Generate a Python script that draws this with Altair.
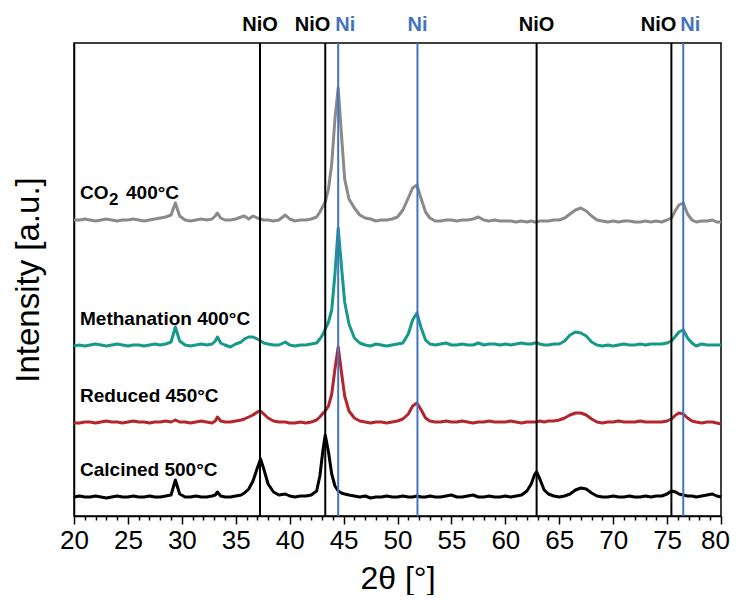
import altair as alt
import pandas as pd

# 2-theta grid (degrees), shared by all four patterns
two_theta = (
    [20, 20.5, 21, 21.5, 22, 22.5, 23, 23.5, 24, 24.5, 25, 25.5, 26, 26.5, 27, 27.5, 28, 28.5]
    + [29.0, 29.4, 29.8]
    + [30.3, 30.8, 31.3, 31.8, 32.3, 32.8]
    + [33.1, 33.3, 33.6]
    + [34.0, 34.5, 35.0, 35.5, 35.8, 36.2, 36.6, 37.0, 37.3, 37.6, 38.0, 38.5, 39.0, 39.6, 40.0]
    + [40.5, 41.0, 41.5, 42.0, 42.5, 42.8, 43.1, 43.3, 43.6, 43.9, 44.2, 44.5, 44.8, 45.1, 45.5]
    + [46.0, 46.5, 47.0, 47.5, 48.0, 48.5, 49.0, 49.5, 50.0, 50.5, 51.0]
    + [51.4, 51.8, 52.2, 52.6]
    + [53.0, 53.5, 54.0, 54.5, 55.0, 55.5, 56.0, 56.5, 57.0, 57.5, 58.0, 58.5, 59.0, 59.5, 60.0, 60.5, 61.0, 61.5, 62.0]
    + [62.4, 62.7, 62.9, 63.2, 63.6]
    + [64.0, 64.5, 65.0, 65.5, 66.0, 66.5, 67.0, 67.5, 68.0, 68.5, 69.0, 69.5, 70.0, 70.5, 71.0, 71.5, 72.0, 72.5, 73.0, 73.5, 74.0, 74.5, 75.0]
    + [75.4, 75.8, 76.1, 76.5, 76.9, 77.3, 77.7, 78.2, 78.7, 79.2, 79.6, 80.0]
)

# intensities (a.u., offset patterns)
calcined = [
    27, 28, 27, 27, 28, 27, 26, 27, 28, 27, 27, 28, 27, 27, 28, 27, 27, 28,
    29, 44, 30,
    27, 27, 28, 27, 27, 28,
    29, 32, 28,
    27, 27, 28, 29, 31, 35, 43, 56, 65, 55, 40, 32, 29, 30, 28,
    27, 28, 28, 29, 33, 48, 75, 89, 72, 50, 38, 33, 31, 30, 29,
    28, 27, 28, 26, 27, 27, 28, 27, 27, 28, 27,
    27, 28, 27, 27,
    28, 27, 27, 28, 29, 27, 27, 28, 29, 27, 27, 28, 27, 27, 28, 27, 28, 29, 33,
    40, 49, 52, 45, 34,
    30, 28, 27, 28, 30, 34, 36, 35, 31, 28, 27, 27, 28, 27, 27, 28, 27, 27, 28, 27, 28, 28, 30,
    33, 32, 30, 29, 28, 28, 27, 28, 29, 30, 28, 27,
]
reduced = [
    101, 101, 102, 102, 101, 102, 103, 102, 102, 101, 102, 103, 102, 102, 101, 102, 102, 103,
    102, 104, 102,
    102, 101, 102, 103, 102, 101,
    103, 107, 103,
    102, 102, 103, 104, 105, 107, 109, 112, 113, 110, 106, 103, 102, 102, 101,
    101, 102, 101, 102, 104, 107, 111, 113, 118, 130, 155, 177, 152, 128, 113,
    106, 103, 102, 101, 102, 102, 101, 102, 103, 105, 110,
    118, 121, 114, 106,
    103, 102, 102, 103, 102, 102, 103, 102, 101, 102, 102, 103, 102, 102, 102, 103, 102, 101, 102,
    102, 102, 102, 103, 102,
    103, 103, 104, 106, 109, 111, 111, 109, 105, 102, 101, 102, 102, 103, 102, 102, 102, 103, 102, 102, 102, 102, 103,
    105, 109, 111, 110, 106, 103, 102, 101, 102, 102, 101, 100,
]
methanation = [
    178, 179, 178, 179, 180, 179, 178, 179, 180, 179, 178, 179, 179, 178, 179, 180, 179, 180,
    182, 197, 183,
    179, 178, 179, 180, 179, 180,
    183, 187, 181,
    179, 177, 180, 182, 185, 187, 187, 185, 183, 181, 180, 179, 179, 182, 179,
    178, 179, 179, 180, 181, 185, 190, 195, 202, 214, 250, 296, 258, 222, 200,
    186, 181, 179, 178, 180, 179, 178, 179, 180, 181, 190,
    204, 211, 196, 184,
    180, 179, 180, 181, 179, 179, 180, 179, 179, 181, 179, 180, 180, 179, 180, 179, 180, 181, 180,
    180, 181, 181, 180, 179,
    179, 180, 180, 183, 189, 192, 191, 188, 182, 179, 178, 179, 178, 179, 180, 179, 179, 180, 179, 180, 180, 180, 181,
    183, 188, 192, 194, 186, 181, 178, 180, 179, 179, 179, 179,
]
co2 = [
    304, 304, 305, 304, 303, 304, 305, 304, 303, 304, 304, 305, 304, 303, 304, 305, 306, 307,
    309, 321, 308,
    304, 303, 304, 305, 304, 305,
    308, 311, 306,
    304, 304, 305, 307, 308, 305, 308, 306, 305, 304, 304, 303, 304, 309, 305,
    303, 304, 304, 305, 307, 312, 318, 322, 335, 360, 405, 436, 390, 345, 325,
    316, 309, 306, 305, 303, 304, 304, 305, 307, 314, 326,
    336, 339, 325, 312,
    306, 303, 303, 304, 304, 303, 304, 304, 305, 307, 304, 303, 304, 303, 303, 303, 302, 303, 302,
    303, 302, 302, 303, 303,
    303, 304, 304, 306, 310, 314, 316, 313, 308, 304, 303, 302, 303, 302, 303, 303, 302, 302, 303, 302, 303, 302, 304,
    306, 314, 319, 321, 310, 304, 302, 303, 303, 304, 302, 302,
]

sample_names = ["Calcined 500°C", "Reduced 450°C", "Methanation 400°C", "CO₂ 400°C"]
sample_colors = ["#000000", "#B3262C", "#14998A", "#8A8A8A"]

# reference reflections
nio_positions = [37.25, 43.3, 62.9, 75.4]
ni_positions = [44.5, 51.85, 76.5]

series = [calcined, reduced, methanation, co2]
for s in series:
    assert len(s) == len(two_theta), len(s)

rows = []
for name, vals in zip(sample_names, series):
    for t, v in zip(two_theta, vals):
        rows.append({"two_theta": t, "intensity": v, "sample": name})
df = pd.DataFrame(rows)

FONT = "Liberation Sans"

x_axis = alt.Axis(
    values=list(range(20, 81)),
    labelExpr="datum.value % 5 === 0 ? datum.label : ''",
    labelOverlap=False,
    labelFlush=False,
    labelOffset={"condition": {"test": "datum.value === 80", "value": -6}, "value": 0},
    tickSize={"condition": {"test": "datum.value % 5 === 0", "value": 8}, "value": 4},
    tickColor="black",
    tickWidth=1.5,
    domainColor="black",
    domainWidth=1.5,
    labelFont=FONT,
    labelFontSize=26,
    labelColor="black",
    labelPadding=3,
    grid=False,
    title="2θ [°]",
    titleFont=FONT,
    titleFontSize=32,
    titleFontWeight="normal",
    titleColor="black",
    titlePadding=10,
)
x_scale = alt.Scale(domain=[20, 80], nice=False)


def X():
    return alt.X("two_theta:Q", scale=x_scale, axis=x_axis)


y_enc = alt.Y(
    "intensity:Q",
    scale=alt.Scale(domain=[8, 481], nice=False, zero=False),
    axis=alt.Axis(
        labels=False,
        ticks=False,
        grid=False,
        domainColor="black",
        domainWidth=1.5,
        title="Intensity [a.u.]",
        titleFont=FONT,
        titleFontSize=33,
        titleFontWeight="normal",
        titleColor="black",
        titlePadding=29,
    ),
)

traces = alt.Chart(df).mark_line(strokeWidth=3, strokeJoin="round").encode(
    x=X(),
    y=y_enc,
    color=alt.Color("sample:N", scale=alt.Scale(domain=sample_names, range=sample_colors), legend=None),
    detail="sample:N",
)

layers = [traces]

# sample labels, anchored above each pattern's first point
for name, vals in zip(sample_names, series):
    one = pd.DataFrame({"intensity": [vals[0]]})
    if name.startswith("CO₂"):
        parts = [("CO", 6, 0, 19), ("2", 35, 7, 17), ("400°C", 52, 0, 19)]
    else:
        parts = [(name, 6, 0, 19)]
    for txt, xoff, dyoff, fs in parts:
        layers.append(
            alt.Chart(one).mark_text(
                align="left", baseline="middle", font=FONT, fontSize=fs,
                fontWeight="bold", color="black", dy=-27 + dyoff, text=txt
            ).encode(x=alt.value(xoff), y="intensity:Q")
        )


def align_for(pos, others):
    if any(0 < o - pos < 2 for o in others):
        return "right"
    if any(0 < pos - o < 2 for o in others):
        return "left"
    return "center"


all_pos = nio_positions + ni_positions
line_rows = []
for p in nio_positions:
    line_rows.append({"two_theta": p, "phase": "NiO", "align": align_for(p, all_pos)})
for p in ni_positions:
    line_rows.append({"two_theta": p, "phase": "Ni", "align": align_for(p, all_pos)})
lines_df = pd.DataFrame(line_rows)

for phase, col in [("NiO", "black"), ("Ni", "#4472C4")]:
    sub = lines_df[lines_df["phase"] == phase]
    layers.append(
        alt.Chart(sub).mark_rule(strokeWidth=2, color=col).encode(x=X())
    )
    for al, dx in [("center", 0), ("right", 5), ("left", -3)]:
        s2 = sub[sub["align"] == al]
        if len(s2) == 0:
            continue
        layers.append(
            alt.Chart(s2).mark_text(
                align=al, baseline="middle", dx=dx, font=FONT, fontSize=20,
                fontWeight="bold", color=col
            ).encode(x=X(), y=alt.value(-18), text="phase:N")
        )

chart = alt.layer(*layers).properties(
    width=647,
    height=473,
    padding={"left": 66, "top": 35, "right": 9, "bottom": 79},
    autosize=alt.AutoSizeParams(type="none"),
    background="white",
).configure_view(stroke="black", strokeWidth=1.5)

chart.save("out.html", embed_options={"renderer": "svg", "actions": False})
